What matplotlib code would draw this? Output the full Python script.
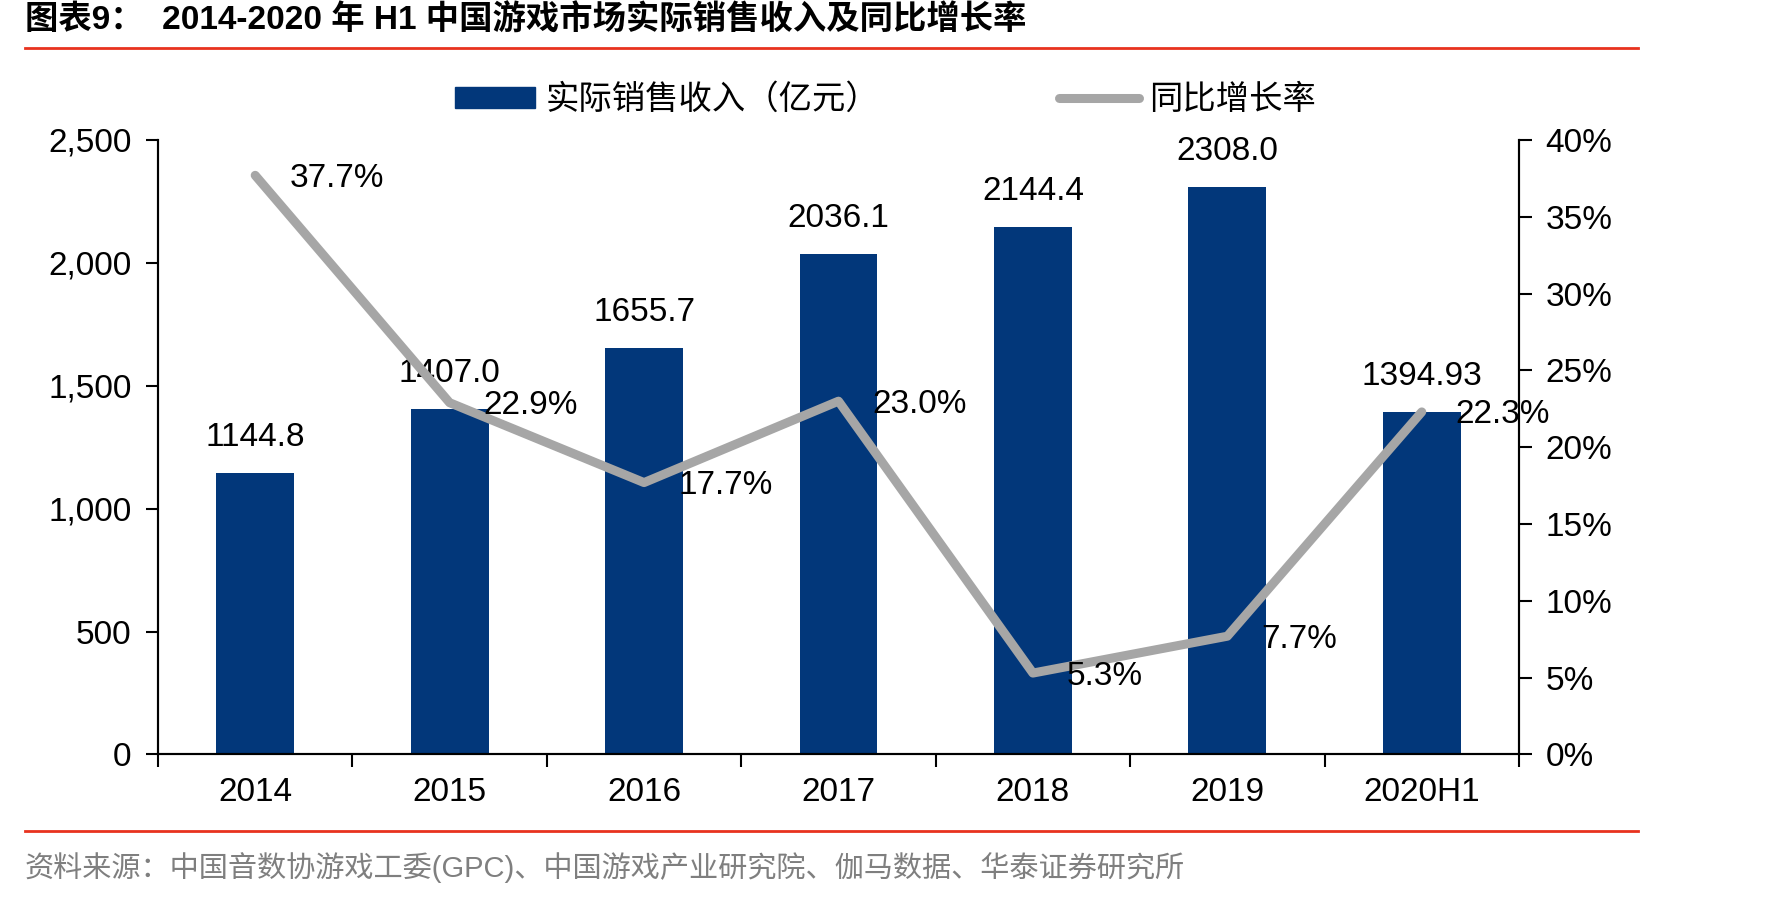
import numpy as np
import matplotlib.pyplot as plt
from matplotlib.lines import Line2D
from matplotlib.patches import Patch

# data
years = ['2014', '2015', '2016', '2017', '2018', '2019', '2020H1']
revenue = [1144.8, 1407.0, 1655.7, 2036.1, 2144.4, 2308.0, 1394.93]
revenue_labels = ['1144.8', '1407.0', '1655.7', '2036.1', '2144.4', '2308.0', '1394.93']
growth = [37.7, 22.9, 17.7, 23.0, 5.3, 7.7, 22.3]

BAR_COLOR = '#02377A'
LINE_COLOR = '#A6A6A6'
FONT = ['Liberation Sans', 'Noto Sans CJK SC', 'DejaVu Sans']
CJK = ['Noto Sans CJK SC', 'DejaVu Sans']
FS = 24

plt.rcParams['font.family'] = FONT

fig = plt.figure(figsize=(17.71, 8.98), dpi=100)
ax = fig.add_axes([0.0892, 0.1598, 0.7685, 0.6843])
ax2 = ax.twinx()

x = np.arange(len(years))
ax.bar(x, revenue, width=0.4, color=BAR_COLOR, zorder=2)
ax.set_xlim(-0.5, len(years) - 0.5)
ax.set_ylim(0, 2500)
ax.set_yticks(np.arange(0, 2501, 500))
ax.set_yticklabels([f'{v:,}' for v in range(0, 2501, 500)])

# bar value labels
for xi, v, lab in zip(x, revenue, revenue_labels):
    ax.annotate(lab, (xi, v), xytext=(0, 20), textcoords='offset pixels',
                ha='center', va='bottom', fontsize=FS)

ax2.plot(x, growth, color=LINE_COLOR, lw=6.5, solid_capstyle='round',
         solid_joinstyle='round', zorder=3)
ax2.set_ylim(0, 40)
ax2.set_yticks(np.arange(0, 41, 5))
ax2.set_yticklabels([f'{v}%' for v in range(0, 41, 5)])
for xi, g in zip(x, growth):
    ax2.annotate(f'{g:.1f}%', (xi, g), xytext=(34, -3), textcoords='offset pixels',
                 ha='left', va='center', fontsize=FS)

# x ticks between categories
ax.set_xticks(np.arange(-0.5, len(years), 1))
ax.set_xticklabels([])
ax.set_xticks(x, minor=True)
ax.set_xticklabels(years, minor=True)
ax.tick_params(axis='x', which='minor', length=0, pad=16, labelsize=FS)
ax.tick_params(axis='x', which='major', length=9, width=1.5, direction='out')
ax.tick_params(axis='y', length=9, width=1.5, direction='out', pad=10, labelsize=FS)
ax2.tick_params(axis='y', length=9, width=1.5, direction='out', pad=10, labelsize=FS)

for a in (ax, ax2):
    a.spines['top'].set_visible(False)
    for s in ('left', 'right', 'bottom'):
        a.spines[s].set_linewidth(1.5)

# legend
handles = [Patch(color=BAR_COLOR), Line2D([], [], color=LINE_COLOR, lw=6.5, solid_capstyle='round')]
leg = fig.legend(handles, ['实际销售收入（亿元）', '同比增长率'], loc='center',
                 bbox_to_anchor=(0.5, 0.889), ncol=2, frameon=False,
                 prop={'family': CJK, 'size': FS}, handlelength=2.4,
                 handleheight=0.6, columnspacing=5.4, handletextpad=0.3)

# title, rules and source
fig.text(0.014, 0.977, '图表9：  2014-2020 年 H1 中国游戏市场实际销售收入及同比增长率',
         fontsize=24, fontweight='bold', family=FONT, va='center', ha='left')
fig.add_artist(Line2D([0.014, 0.925], [0.947, 0.947], color='#E8321E', lw=2))
fig.add_artist(Line2D([0.014, 0.925], [0.075, 0.075], color='#E8321E', lw=2))
fig.text(0.014, 0.034, '资料来源：中国音数协游戏工委(GPC)、中国游戏产业研究院、伽马数据、华泰证券研究所',
         fontsize=21, color='#7F7F7F', family=FONT, va='center', ha='left')

fig.savefig('out.png', dpi=100)
